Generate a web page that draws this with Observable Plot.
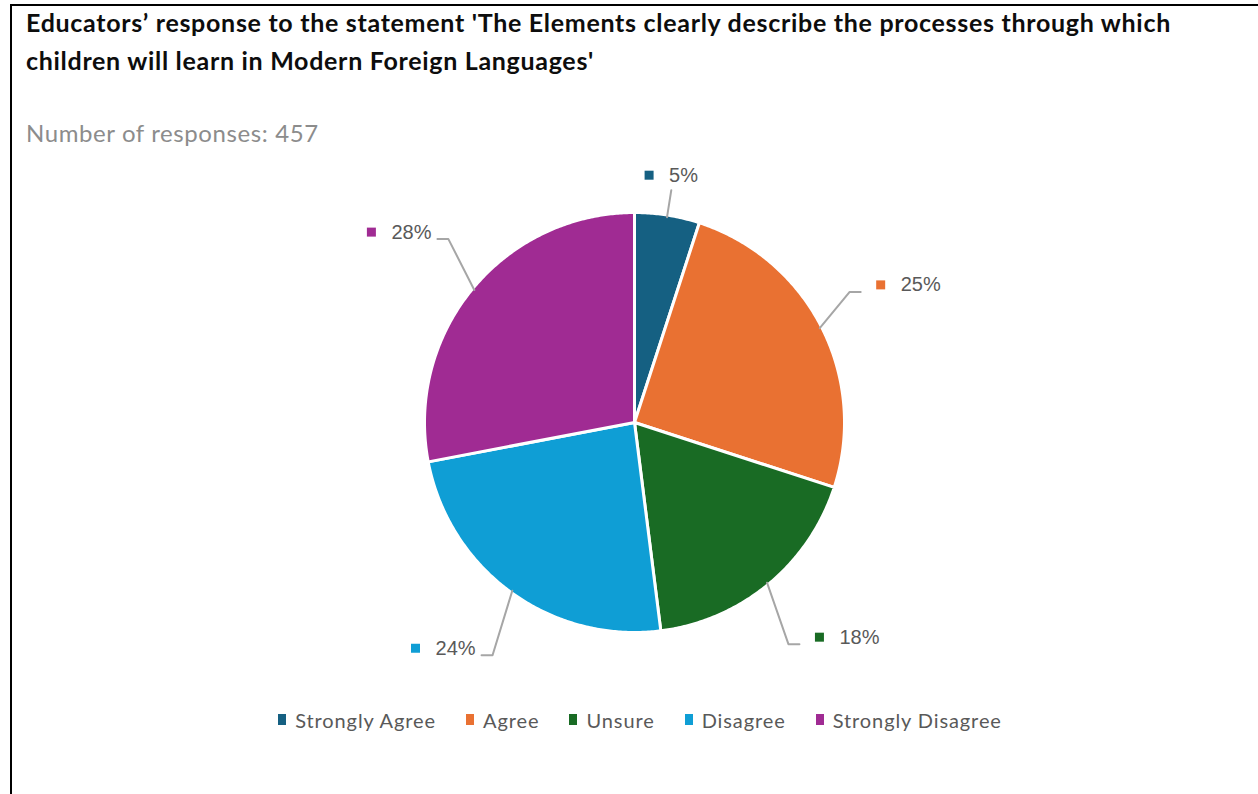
<!DOCTYPE html>
<html>
<head>
<meta charset="utf-8">
<script src="https://cdn.jsdelivr.net/npm/d3@7"></script>
<script src="https://cdn.jsdelivr.net/npm/@observablehq/plot@0.6"></script>
<style>
  html, body { margin: 0; padding: 0; background: #fff; }
  body { width: 1258px; height: 794px; overflow: hidden; position: relative; font-family: Lato, sans-serif; }
  #frame { position: absolute; left: 10px; top: 4px; width: 1300px; height: 900px; border-top: 2px solid #000; border-left: 2px solid #000; }
  #title { position: absolute; left: 26px; top: 3px; font-family: Lato; font-weight: 700; font-size: 25px; letter-spacing: 0.7px; line-height: 38px; color: #0d0d0d; white-space: nowrap; }
  #subtitle { position: absolute; left: 26px; top: 119px; font-family: Lato; font-size: 24px; letter-spacing: 0.6px; line-height: 28px; color: #8c8c8c; white-space: nowrap; }
  #chart { position: absolute; left: 0; top: 150px; }
  #legend { position: absolute; left: 11px; top: 703px; width: 1258px; display: flex; justify-content: center; letter-spacing: 0.9px; }
  #legend * { letter-spacing: 0.9px; }
  #legend > div { margin: 0 !important; }
  #legend span { margin-right: 30px !important; }
  #legend span:last-child { margin-right: 0 !important; }
  #legend span > svg { margin-right: 9px !important; }
</style>
</head>
<body>
<div id="frame"></div>
<div id="title">Educators’ response to the statement 'The Elements clearly describe the processes through which<br>children will learn in Modern Foreign Languages'</div>
<div id="subtitle">Number of responses: 457</div>
<div id="chart"></div>
<div id="legend"></div>
<script>
// ---- Data ----
const categories = ["Strongly Agree", "Agree", "Unsure", "Disagree", "Strongly Disagree"];
const percentages = [5, 25, 18, 24, 28];
const colors = ["#156082", "#E97132", "#196B24", "#0F9ED5", "#A02B93"];

// ---- Layout ----
const W = 1258, H = 600;
const cx = 634, cy = 272, R = 210;
const u = 1 / R; // one pixel in data units

const rows = categories.map((c, i) => ({cat: c, value: percentages[i]}));
const arcs = d3.pie().sort(null).value(d => d.value)(rows);

// slice polygons
const slicePts = [];
for (const a of arcs) {
  const cat = a.data.cat;
  slicePts.push({cat, x: 0, y: 0});
  const n = Math.max(2, Math.ceil((a.endAngle - a.startAngle) / (Math.PI / 360)));
  for (let j = 0; j <= n; j++) {
    const t = a.startAngle + (a.endAngle - a.startAngle) * j / n;
    slicePts.push({cat, x: Math.sin(t), y: Math.cos(t)});
  }
}

// text width measure
const ctx = document.createElement("canvas").getContext("2d");
ctx.font = "20px 'Liberation Sans'";
const tw = s => ctx.measureText(s).width;

// leader lines and labels (generic "best fit" placement on an ellipse)
const leaderPts = [];
const labels = [];
const kx = 1.15, ky = 1.37, kTop = 1.12;
for (const a of arcs) {
  const cat = a.data.cat;
  const text = a.data.value + "%";
  const w = tw(text);
  const m = (a.startAngle + a.endAngle) / 2;
  const sx = Math.sin(m), sy = Math.cos(m);
  leaderPts.push({cat, x: sx * 0.99, y: sy * 0.99});
  if (Math.abs(sx) < 0.3) {
    const ex = sx * kTop, ey = sy * kTop;
    leaderPts.push({cat, x: ex, y: ey});
    const ly = ey + Math.sign(sy) * 15 * u;
    const x0 = ex - (24.5 + w) / 2 * u;
    labels.push({cat, text, tx: x0 + 24.5 * u, ty: ly, qx: x0 + 4.5 * u, qy: ly});
  } else {
    const ex = sx * kx, ey = sy * ky;
    leaderPts.push({cat, x: ex, y: ey});
    const dir = Math.sign(sx);
    const endX = ex + dir * 11 * u;
    leaderPts.push({cat, x: endX, y: ey});
    const ly = ey + 7 * u;
    if (dir > 0) {
      labels.push({cat, text, tx: endX + 40 * u, ty: ly, qx: endX + 20 * u, qy: ly});
    } else {
      const ts = endX - (6 + w) * u;
      labels.push({cat, text, tx: ts, ty: ly, qx: ts - 20 * u, qy: ly});
    }
  }
}

const chart = Plot.plot({
  width: W,
  height: H,
  margin: 0,
  x: {domain: [-1, 1], range: [cx - R, cx + R], axis: null},
  y: {domain: [-1, 1], range: [cy + R, cy - R], axis: null},
  color: {domain: categories, range: colors},
  style: {background: "transparent", overflow: "visible"},
  marks: [
    Plot.line(slicePts, {x: "x", y: "y", z: "cat", fill: "cat", stroke: "white", strokeWidth: 3, strokeLinejoin: "round", curve: "linear-closed"}),
    Plot.line(leaderPts, {x: "x", y: "y", z: "cat", stroke: "#a6a6a6", strokeWidth: 2, curve: "linear"}),
    Plot.dot(labels, {x: "qx", y: "qy", fill: "cat", symbol: "square", r: 9 / Math.sqrt(Math.PI), stroke: null}),
    Plot.text(labels, {x: "tx", y: "ty", text: "text", textAnchor: "start", fontSize: 20, fill: "#595959", fontFamily: "'Liberation Sans', Arial, sans-serif"})
  ]
});
document.getElementById("chart").appendChild(chart);

const leg = Plot.legend({
  color: {type: "categorical", domain: categories, range: colors},
  legend: "swatches",
  swatchWidth: 8,
  swatchHeight: 11,
  style: {fontFamily: "Lato, sans-serif", fontSize: "20px", color: "#595959", letterSpacing: "0.9px"}
});
document.getElementById("legend").appendChild(leg);
</script>
</body>
</html>
